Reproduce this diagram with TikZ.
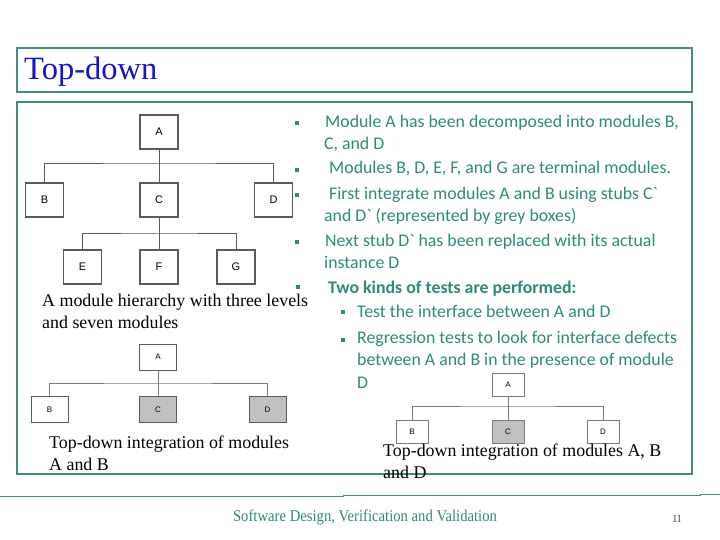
\documentclass[tikz,border=0pt]{standalone}
\usepackage{fontspec}
\usepackage{graphicx}
\setmainfont{Liberation Serif}
\newfontfamily\bodyfont{Carlito}
\newfontfamily\boxfont{Liberation Sans}
\definecolor{tealtxt}{RGB}{46,138,122}
\definecolor{tealline}{RGB}{70,140,130}
\definecolor{titleblue}{RGB}{20,20,200}
\definecolor{boxline}{RGB}{90,90,90}
\definecolor{stubgray}{RGB}{192,192,192}
\begin{document}
\begin{tikzpicture}[x=1pt,y=-1pt,
  bigbox/.style={draw=boxline,line width=1.3pt,fill=white,minimum width=38pt,minimum height=34pt,inner sep=0pt,font=\boxfont\fontsize{11}{12}\selectfont},
  smallbox/.style={draw=boxline,line width=0.9pt,fill=white,minimum width=37pt,minimum height=26pt,inner sep=0pt,font=\boxfont\fontsize{8}{9}\selectfont},
  tinybox/.style={draw=boxline!80,line width=0.8pt,fill=white,minimum width=32pt,minimum height=23pt,inner sep=0pt,font=\boxfont\fontsize{8}{9}\selectfont},
  stub/.style={fill=stubgray},
  link/.style={draw=boxline,line width=0.8pt},
  thinlink/.style={draw=boxline!80,line width=0.6pt},
  bodytxt/.style={anchor=base west,inner sep=0pt,text=tealtxt,font=\bodyfont\fontsize{17.8}{20}\selectfont},
  captxt/.style={anchor=base west,inner sep=0pt,font=\fontsize{17.9}{22}\selectfont},
  bul/.style={fill=tealtxt,minimum size=3.5pt,inner sep=0pt}]
\useasboundingbox (0,0) rectangle (720,540);
\fill[white] (0,0) rectangle (720,540);
% title frame
\draw[tealline,line width=1.5pt] (17,48) rectangle (692,92);
\node[anchor=base west,inner sep=0pt,text=titleblue,font=\fontsize{32.5}{34}\selectfont] (title) at (24,80) {Top-down};
% content frame
\draw[tealline,line width=1.2pt] (17,102) -- (692,102) -- (692,474) -- (17,474) -- cycle;
% footer
\draw[tealline,line width=0.8pt] (0,496) -- (343,496) -- (343,495) -- (700,495) -- (700,494) -- (720,494);
\node[anchor=base,inner sep=0pt,text=tealtxt] (foot) at (365,521) {\scalebox{0.89}[1]{\fontsize{16.5}{18}\selectfont Software Design, Verification and Validation}};
\node[anchor=base,inner sep=0pt,text=black!80,font=\fontsize{11}{12}\selectfont] (page) at (677,522) {\scalebox{0.85}[1]{11}};

% tree 1
\node[bigbox] (A1) at (159,132) {A};
\node[bigbox] (B1) at (44.5,200) {B};
\node[bigbox] (C1) at (159,200) {C};
\node[bigbox] (D1) at (273.5,200) {D};
\node[bigbox] (E1) at (82.5,267) {E};
\node[bigbox] (F1) at (159,267) {F};
\node[bigbox] (G1) at (236,267) {G};
\coordinate (h1) at (159,163);
\coordinate (h2) at (159,233);
\draw[link] (A1.south) -- (C1.north);
\draw[link] (B1.north) |- (h1) -| (D1.north);
\draw[link] (C1.south) -- (F1.north);
\draw[link] (E1.north) |- (h2) -| (G1.north);
\node[captxt] (cap1) at (42,306) {A module hierarchy with three levels};
\node[captxt] (cap1b) at (42,328) {and seven modules};

% tree 2
\node[smallbox] (A2) at (158,357) {A};
\node[smallbox] (B2) at (49.5,409.5) {B};
\node[smallbox,stub] (C2) at (158,409.5) {C};
\node[smallbox,stub] (D2) at (267.5,409.5) {D};
\coordinate (h3) at (158,383);
\draw[thinlink] (A2.south) -- (C2.north);
\draw[thinlink] (B2.north) |- (h3) -| (D2.north);
\node[captxt] (cap2) at (49,448) {Top-down integration of modules};
\node[captxt] (cap2b) at (49,470) {A and B};

% tree 3
\node[tinybox] (A3) at (508,384.5) {A};
\node[tinybox] (B3) at (412,432) {B};
\node[tinybox,stub] (C3) at (508,432) {C};
\node[tinybox] (D3) at (603,432) {D};
\coordinate (h4) at (508,406);
\draw[thinlink] (A3.south) -- (C3.north);
\draw[thinlink] (B3.north) |- (h4) -| (D3.north);
\node[captxt] (cap3) at (383,456) {Top-down integration of modules A, B};
\node[captxt] (cap3b) at (383,478) {and D};

% bullets
\node[bul] (b1) at (297,123) {};
\node[bodytxt] (t1) at (325,128) {Module A has been decomposed into modules B,};
\node[bodytxt] (t1b) at (324,150) {C, and D};
\node[bul] (b2) at (297,170) {};
\node[bodytxt] (t2) at (329,174) {Modules B, D, E, F, and G are terminal modules.};
\node[bul] (b3) at (297,195) {};
\node[bodytxt] (t3) at (329,200) {First integrate modules A and B using stubs C`};
\node[bodytxt] (t3b) at (324,222) {and D` (represented by grey boxes)};
\node[bul] (b4) at (297,242) {};
\node[bodytxt] (t4) at (325,247) {Next stub D` has been replaced with its actual};
\node[bodytxt] (t4b) at (324,268) {instance D};
\node[bul] (b5) at (298,287) {};
\node[bodytxt,font=\bodyfont\bfseries\fontsize{17.8}{20}\selectfont] (t5) at (328,293) {Two kinds of tests are performed:};
\node[bul] (b6) at (343,312) {};
\node[bodytxt] (t6) at (357,317) {Test the interface between A and D};
\node[bul] (b7) at (343,340) {};
\node[bodytxt] (t7) at (357,343) {Regression tests to look for interface defects};
\node[bodytxt] (t7b) at (357,365) {between A and B in the presence of module};
\node[bodytxt] (t7c) at (357,388) {D};
\end{tikzpicture}
\end{document}
